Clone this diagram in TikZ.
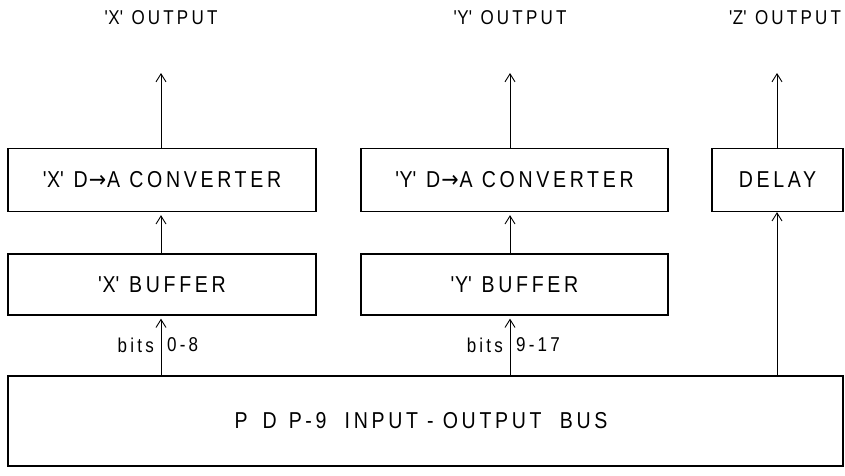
\documentclass[tikz,border=0pt]{standalone}
\usepackage{fontspec}
\setmainfont{Liberation Sans}[FakeStretch=0.85, LetterSpace=16]
\newfontfamily\arrfont{DejaVu Sans}[FakeStretch=0.9]
\usetikzlibrary{arrows.meta}
\tikzset{
  blk/.style={draw, line width=1.3pt, minimum height=63pt, inner sep=0pt},
  lbl/.style={font=\fontsize{23}{26}\selectfont, inner sep=0pt},
  outl/.style={font=\fontsize{20}{24}\selectfont, inner sep=0pt},
  small/.style={font=\fontsize{20}{24}\selectfont, inner sep=0pt},
  conn/.style={line width=0.9pt, -{Straight Barb[length=8pt,width=10pt,line width=0.9pt]}},
}
\newcommand{\qq}[1]{\textquotesingle#1\textquotesingle}
\newcommand{\DA}{D{\arrfont\kern1pt→\kern1pt}A}
\begin{document}
\begin{tikzpicture}[x=1pt,y=-1pt]
\useasboundingbox (0,0) rectangle (845,475);
% converters / delay
\node[blk, minimum width=308pt] (cx) at (162,180) {};
\node[lbl] at (cx) {\qq{X}\ \DA\ CONVERTER};
\node[blk, minimum width=307pt] (cy) at (514.5,180) {};
\node[lbl] at (cy) {\qq{Y}\ \DA\ CONVERTER};
\node[blk, minimum width=131pt] (dl) at (777.5,180) {};
\node[lbl] at (dl) {DELAY};
% buffers
\node[blk, minimum width=308pt, minimum height=61pt] (bx) at (162,284.5) {};
\node[lbl] at (bx) {\qq{X} BUFFER};
\node[blk, minimum width=307pt, minimum height=61pt] (by) at (514.5,284.5) {};
\node[lbl] at (by) {\qq{Y} BUFFER};
% bus
\node[blk, minimum width=835pt, minimum height=90pt] (bus) at (425.5,421) {};
\node[lbl] (bustxt) at (421,421) {P\hspace{15pt}D\hspace{12pt}P-9\ \ INPUT - OUTPUT\ \ BUS};
% outputs
\node[outl] (ox) at (161,18) {\qq{X} OUTPUT};
\node[outl] (oy) at (510,18) {\qq{Y} OUTPUT};
\node[outl] (oz) at (785,18) {\qq{Z} OUTPUT};
\coordinate (tx) at (161,73);
\coordinate (ty) at (510,73);
\coordinate (tz) at (777,73);
\draw[conn] (cx.north -| tx) -- (tx);
\draw[conn] (cy.north -| ty) -- (ty);
\draw[conn] (dl.north -| tz) -- (tz);
% buffer -> converter
\draw[conn] (bx.north -| tx) -- ([yshift=-3pt]cx.south -| tx);
\draw[conn] (by.north -| ty) -- ([yshift=-3pt]cy.south -| ty);
% bus -> buffers, delay
\draw[conn] (bus.north -| tx) -- ([yshift=-3pt]bx.south -| tx);
\draw[conn] (bus.north -| ty) -- ([yshift=-3pt]by.south -| ty);
\draw[conn] (bus.north -| tz) -- (dl.south -| tz);
% bit labels
\node[small, anchor=east] (b1) at (154,345) {bits};
\node[small, anchor=west] (r1) at (167,345) {0-8};
\node[small, anchor=east] (b2) at (503,345) {bits};
\node[small, anchor=west] (r2) at (516,345) {9-17};
\end{tikzpicture}
\end{document}
